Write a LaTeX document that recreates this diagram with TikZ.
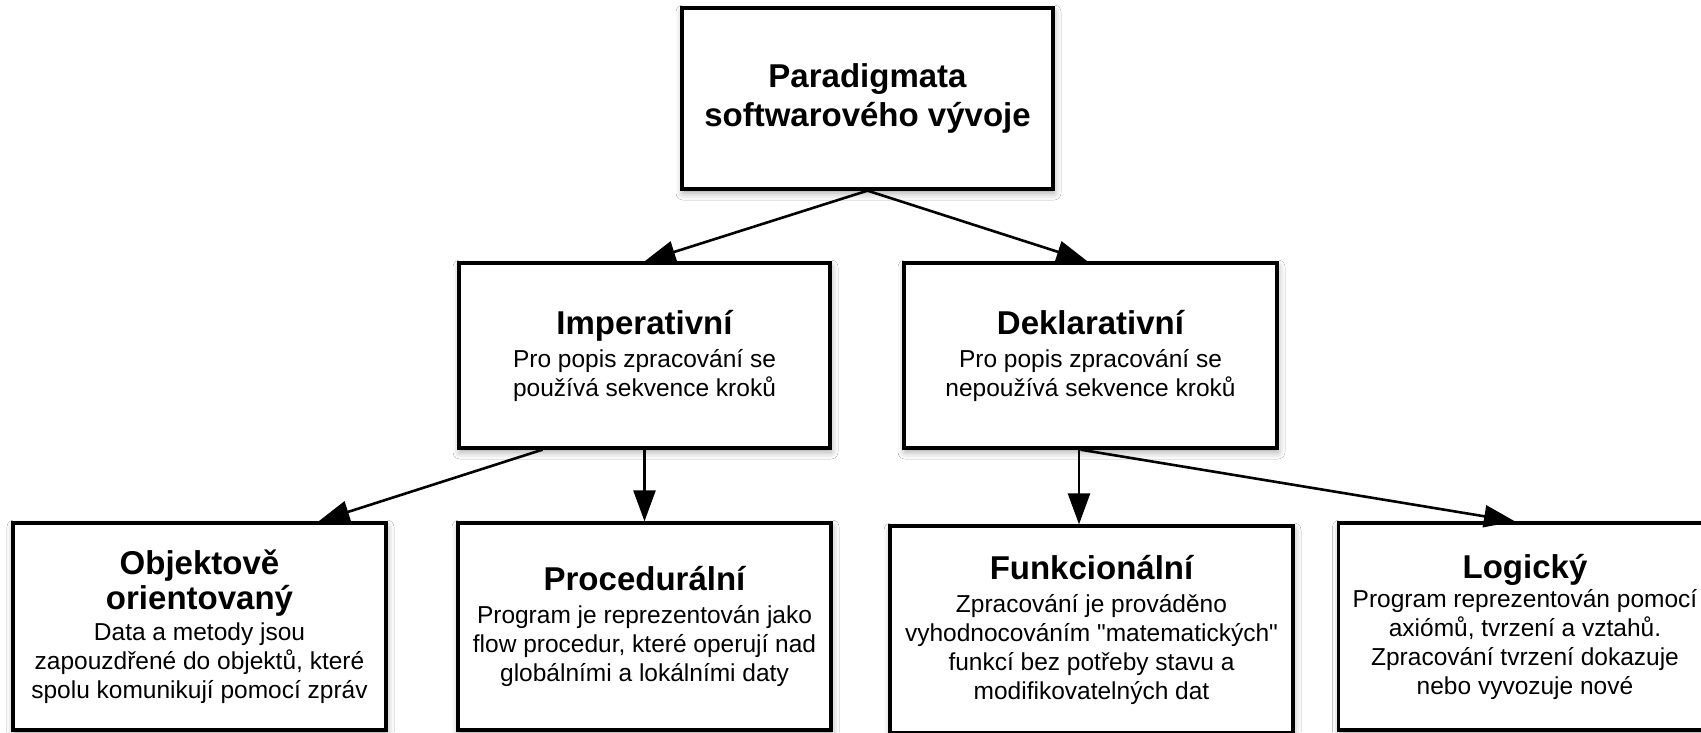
\documentclass[tikz,border=0pt]{standalone}
\usepackage{fontspec}
\setmainfont{Liberation Sans}[Ligatures=TeXOff]
\usetikzlibrary{arrows.meta,shadows.blur}
\newcommand{\tf}{\fontsize{33}{38}\selectfont\bfseries}
\begin{document}
\begin{tikzpicture}[x=1pt,y=-1pt,
  box/.style={draw=black, line width=3.3pt, fill=white, rectangle, inner sep=0pt, align=center,
    font=\fontsize{24.5}{29}\selectfont,
    blur shadow={shadow xshift=1pt, shadow yshift=-4pt, shadow blur radius=7pt, shadow opacity=35}},
  arr/.style={line width=2.6pt, -{Triangle[length=31pt,width=22pt]}}]
\fill[white] (0,0) rectangle (1701,732);
\useasboundingbox (0,0) rectangle (1701,732);

\node[box, minimum width=371pt, minimum height=181pt, font=\fontsize{33}{39}\selectfont\bfseries] (top) at (867.5,98.5) {Paradigmata\\softwarového vývoje};

\node[box, minimum width=371pt, minimum height=185pt] (imp) at (644.5,355.5)
  {{\tf Imperativní}\\[4pt]Pro popis zpracování se\\používá sekvence kroků};
\node[box, minimum width=373pt, minimum height=185pt] (dek) at (1090.5,355.5)
  {{\tf Deklarativní}\\[4pt]Pro popis zpracování se\\nepoužívá sekvence kroků};

\node[box, minimum width=373pt, minimum height=207pt] (obj) at (199.5,626.5)
  {{\tf Objektově}\\[3pt]{\tf orientovaný}\\[2pt]Data a metody jsou\\zapouzdřené do objektů, které\\spolu komunikují pomocí zpráv};
\node[box, minimum width=373pt, minimum height=207pt] (proc) at (644.5,626.5)
  {{\tf Procedurální}\\[4pt]Program je reprezentován jako\\flow procedur, které operují nad\\globálními a lokálními daty};
\node[box, minimum width=403pt, minimum height=207pt] (fun) at (1091.5,629.5)
  {{\tf Funkcionální}\\[4pt]Zpracování je prováděno\\vyhodnocováním "matematických"\\funkcí bez potřeby stavu a\\modifikovatelných dat};
\node[box, minimum width=373pt, minimum height=207pt] (log) at (1525,626.5)
  {{\tf Logický}\\[0pt]Program reprezentován pomocí\\axiómů, tvrzení a vztahů.\\Zpracování tvrzení dokazuje\\nebo vyvozuje nové};

\draw[arr] (top.south) -- (imp.north);
\draw[arr] (top.south) -- ([xshift=-3pt]dek.north);
\draw[arr] ([xshift=-102pt]imp.south) -- ([xshift=119pt]obj.north);
\draw[arr] (imp.south) -- (proc.north);
\draw[arr] ([xshift=-11.5pt]dek.south) -- ([xshift=-12.5pt]fun.north);
\draw[arr] ([xshift=-10pt]dek.south) -- ([xshift=-10pt]log.north);
\end{tikzpicture}
\end{document}
